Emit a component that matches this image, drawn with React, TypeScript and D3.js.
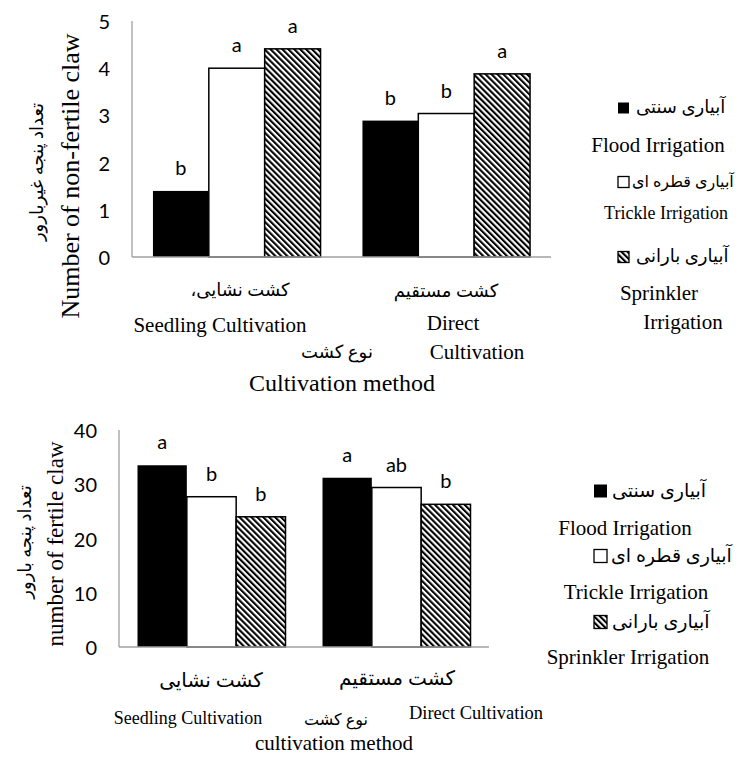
import * as d3 from "d3";

const categories = ["Seedling Cultivation", "Direct Cultivation"];
const seriesKeys = ["flood", "trickle", "sprinkler"];

// Number of non-fertile claw
const nonFertileFlood = [1.4, 2.89];
const nonFertileTrickle = [4.0, 3.04];
const nonFertileSprinkler = [4.41, 3.88];
const nonFertileLetters = [
  ["b", "b"],
  ["a", "b"],
  ["a", "a"],
];
const nonFertileTicks = [0, 1, 2, 3, 4, 5];

// Number of fertile claw
const fertileFlood = [33.5, 31.2];
const fertileTrickle = [27.7, 29.4];
const fertileSprinkler = [24.0, 26.3];
const fertileLetters = [
  ["a", "a"],
  ["b", "ab"],
  ["b", "b"],
];
const fertileTicks = [0, 10, 20, 30, 40];

const SERIF = "'Liberation Serif', 'Times New Roman', 'DejaVu Serif', serif";
const PERSIAN = "'Liberation Serif', 'DejaVu Sans', serif";
const SANS = "Lato, 'Open Sans', 'Liberation Sans', sans-serif";
const AXIS = "#a0a0a0";

const fills = ["#000", "#fff", "url(#hatch)"];

function BarChart({ values, letters, ticks, x0, x1, yTop, yBase }) {
  const x = d3.scaleBand().domain(categories).range([x0, x1]).paddingInner(0.2).paddingOuter(0.1);
  const xs = d3.scaleBand().domain(seriesKeys).range([0, x.bandwidth()]);
  const y = d3
    .scaleLinear()
    .domain([0, d3.max(ticks)])
    .range([yBase, yTop]);

  return (
    <g>
      {ticks.map((t) => (
        <text
          key={t}
          x={x0 - 22}
          y={y(t)}
          textAnchor="end"
          dominantBaseline="central"
          fontFamily={SANS}
          fontSize={20}
          fill="#000"
        >
          {t}
        </text>
      ))}
      {seriesKeys.map((k, si) =>
        categories.map((c, ci) => {
          const v = values[si][ci];
          const bx = x(c) + xs(k);
          return (
            <g key={k + c}>
              <rect
                x={bx}
                y={y(v)}
                width={xs.bandwidth()}
                height={yBase - y(v)}
                fill={fills[si]}
                stroke="#000"
                strokeWidth={si === 0 ? 0 : 1.5}
              />
              <text
                x={bx + xs.bandwidth() / 2}
                y={y(v) - 24}
                textAnchor="middle"
                dominantBaseline="central"
                fontFamily={SANS}
                fontSize={20}
              >
                {letters[si][ci]}
              </text>
            </g>
          );
        })
      )}
      <line x1={x0} x2={x0} y1={yTop} y2={yBase} stroke={AXIS} strokeWidth={1.3} />
      <line x1={x0} x2={x1} y1={yBase} y2={yBase} stroke={AXIS} strokeWidth={1.3} />
    </g>
  );
}

function LegendSwatch({ x, y, size, i }) {
  return (
    <rect
      x={x}
      y={y - size / 2}
      width={size}
      height={size}
      fill={fills[i]}
      stroke="#000"
      strokeWidth={i === 0 ? 0 : 1.3}
    />
  );
}

function T({ x, y, size, children, anchor = "middle", family = SERIF, rotate = false, rtl = false }) {
  return (
    <text
      x={rotate ? 0 : x}
      y={rotate ? 0 : y}
      transform={rotate ? `translate(${x},${y}) rotate(-90)` : undefined}
      textAnchor={anchor}
      direction={rtl ? "rtl" : undefined}
      dominantBaseline="central"
      fontFamily={family}
      fontSize={size}
      fill="#000"
    >
      {children}
    </text>
  );
}

export default function App() {
  return (
    <div style={{ position: "absolute", left: 0, top: 0 }}>
      <svg width={739} height={761} style={{ display: "block", background: "#fff" }}>
        <defs>
          <pattern
            id="hatch"
            patternUnits="userSpaceOnUse"
            width={4.2}
            height={10}
            patternTransform="rotate(-45)"
          >
            <rect width={4.2} height={10} fill="#fff" />
            <rect width={2.1} height={10} fill="#000" />
          </pattern>
        </defs>

        {/* ---------- top chart ---------- */}
        <BarChart
          values={[nonFertileFlood, nonFertileTrickle, nonFertileSprinkler]}
          letters={nonFertileLetters}
          ticks={nonFertileTicks}
          x0={132}
          x1={551}
          yTop={21}
          yBase={257}
        />
        <T x={37} y={172} size={18} family={PERSIAN} rotate rtl>
          تعداد پنجه غیربارور
        </T>
        <T x={70} y={176} size={26} rotate>
          Number of non-fertile claw
        </T>
        <T x={240} y={290} size={18} family={PERSIAN} rtl>کشت نشایی،</T>
        <T x={220} y={325} size={21}>Seedling Cultivation</T>
        <T x={446} y={291} size={18} family={PERSIAN} rtl>کشت مستقیم</T>
        <T x={453} y={323} size={21}>Direct</T>
        <T x={477} y={352} size={21}>Cultivation</T>
        <T x={337} y={352} size={18} family={PERSIAN} rtl>نوع کشت</T>
        <T x={342} y={383} size={24}>Cultivation method</T>

        <LegendSwatch x={618} y={108} size={11} i={0} />
        <T x={636} y={107} size={18} anchor="start" family={PERSIAN}>آبیاری سنتی</T>
        <T x={658} y={145} size={21}>Flood Irrigation</T>
        <LegendSwatch x={618} y={182} size={11} i={1} />
        <T x={632} y={181} size={16} anchor="start" family={PERSIAN}>آبیاری قطره ای</T>
        <T x={666} y={213} size={18}>Trickle Irrigation</T>
        <LegendSwatch x={618} y={257} size={11} i={2} />
        <T x={636} y={256} size={18} anchor="start" family={PERSIAN}>آبیاری بارانی</T>
        <T x={659} y={293} size={21}>Sprinkler</T>
        <T x={683} y={322} size={21}>Irrigation</T>

        {/* ---------- bottom chart ---------- */}
        <BarChart
          values={[fertileFlood, fertileTrickle, fertileSprinkler]}
          letters={fertileLetters}
          ticks={fertileTicks}
          x0={119}
          x1={489}
          yTop={430}
          yBase={647}
        />
        <T x={25} y={542} size={18} family={PERSIAN} rotate rtl>
          تعداد پنجه بارور
        </T>
        <T x={55} y={544} size={23} rotate>
          number of fertile claw
        </T>
        <T x={211} y={680} size={20} family={PERSIAN} rtl>کشت نشایی</T>
        <T x={188} y={718} size={18}>Seedling Cultivation</T>
        <T x={397} y={678} size={20} family={PERSIAN} rtl>کشت مستقیم</T>
        <T x={476} y={713} size={18.5}>Direct Cultivation</T>
        <T x={336} y={719} size={16} family={PERSIAN} rtl>نوع کشت</T>
        <T x={334} y={743} size={21}>cultivation method</T>

        <LegendSwatch x={594} y={491} size={13} i={0} />
        <T x={612} y={490} size={19} anchor="start" family={PERSIAN}>آبیاری سنتی</T>
        <T x={625} y={528} size={21}>Flood Irrigation</T>
        <LegendSwatch x={594} y={556} size={13} i={1} />
        <T x={611} y={555} size={19} anchor="start" family={PERSIAN}>آبیاری قطره ای</T>
        <T x={636} y={592} size={21}>Trickle Irrigation</T>
        <LegendSwatch x={594} y={622} size={13} i={2} />
        <T x={612} y={621} size={19} anchor="start" family={PERSIAN}>آبیاری بارانی</T>
        <T x={628} y={657} size={21}>Sprinkler Irrigation</T>
      </svg>
    </div>
  );
}
